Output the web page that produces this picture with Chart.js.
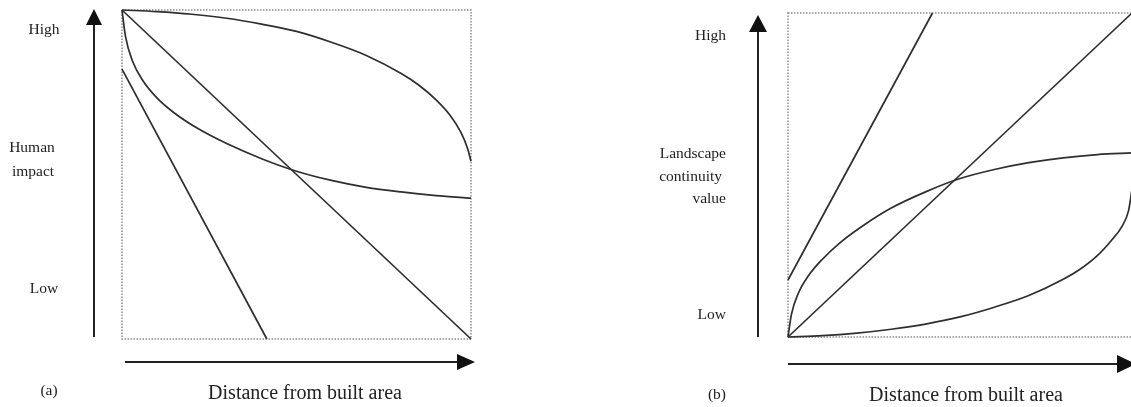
<!DOCTYPE html>
<html>
<head>
<meta charset="utf-8">
<script src="https://cdn.jsdelivr.net/npm/chart.js@4.4.0/dist/chart.umd.min.js"></script>
<style>
  body { margin: 0; width: 1131px; height: 407px; overflow: hidden; background: #fff; position: relative;
         font-family: "Liberation Serif", "Times New Roman", serif; color: #222; }
  canvas { position: absolute; top: 0; }
  .lbl { position: absolute; font-size: 15.5px; line-height: 1; white-space: nowrap; }
  .c { transform: translate(-50%, -50%); }
  .r { transform: translate(-100%, -50%); }
  .big { font-size: 20px; }
</style>
</head>
<body>
<canvas id="chartA" width="565" height="407" style="left:0"></canvas>
<canvas id="chartB" width="580" height="407" style="left:565px"></canvas>

<div class="lbl c" style="left:44px;top:29px">High</div>
<div class="lbl c" style="left:32px;top:147px">Human</div>
<div class="lbl c" style="left:33px;top:171px">impact</div>
<div class="lbl c" style="left:44px;top:288px">Low</div>
<div class="lbl c" style="left:49px;top:390px">(a)</div>
<div class="lbl c big" style="left:305px;top:392px">Distance from built area</div>

<div class="lbl r" style="left:726px;top:35px">High</div>
<div class="lbl r" style="left:726px;top:153px">Landscape</div>
<div class="lbl r" style="left:722px;top:176px">continuity</div>
<div class="lbl r" style="left:726px;top:198px">value</div>
<div class="lbl r" style="left:726px;top:314px">Low</div>
<div class="lbl c" style="left:717px;top:394px">(b)</div>
<div class="lbl c big" style="left:966px;top:394px">Distance from built area</div>

<script>
// (a) human impact vs distance
const aSlowX = [0, 0.1, 0.2, 0.3, 0.4, 0.5, 0.6, 0.7, 0.8, 0.85, 0.9, 0.94, 0.97, 0.99, 1];
const aSlowY = [1, 0.995, 0.987, 0.975, 0.957, 0.935, 0.902, 0.862, 0.807, 0.772, 0.727, 0.68, 0.63, 0.58, 0.54];
const aLinearX = [0, 1];
const aLinearY = [1, 0];
const aFastX = [0, 0.01, 0.03, 0.06, 0.1, 0.15, 0.22, 0.3, 0.4, 0.5, 0.6, 0.7, 0.8, 0.9, 1];
const aFastY = [1, 0.92, 0.845, 0.785, 0.733, 0.687, 0.638, 0.594, 0.548, 0.51, 0.482, 0.461, 0.447, 0.436, 0.428];
const aSteepX = [0, 0.415];
const aSteepY = [0.82, 0];

// (b) landscape continuity value vs distance
const bSteepX = [0, 0.42];
const bSteepY = [0.176, 1];
const bLinearX = [0, 1];
const bLinearY = [0, 1];
const bFastX = [0, 0.01, 0.03, 0.06, 0.1, 0.15, 0.22, 0.3, 0.4, 0.5, 0.6, 0.7, 0.8, 0.9, 1];
const bFastY = [0, 0.07, 0.135, 0.19, 0.24, 0.29, 0.345, 0.398, 0.448, 0.489, 0.517, 0.538, 0.553, 0.563, 0.568];
const bSlowX = [0, 0.1, 0.2, 0.3, 0.4, 0.5, 0.6, 0.7, 0.8, 0.85, 0.9, 0.94, 0.97, 0.99, 1];
const bSlowY = [0, 0.004, 0.012, 0.024, 0.04, 0.062, 0.092, 0.128, 0.178, 0.21, 0.252, 0.298, 0.34, 0.39, 0.456];

const toPoints = (xs, ys) => xs.map((x, i) => ({ x, y: ys[i] }));

// dotted frame round the plot area + the two axis arrows
const framePlugin = {
  id: "frame",
  beforeDatasetsDraw(chart, args, opts) {
    const { ctx, chartArea: { left, top, right, bottom } } = chart;
    ctx.save();
    ctx.strokeStyle = "#8c8c8c";
    ctx.lineWidth = 1.5;
    ctx.setLineDash([1.5, 1.5]);
    ctx.strokeRect(left, top, right - left, bottom - top);
    ctx.setLineDash([]);

    const v = opts.v, h = opts.h;
    ctx.strokeStyle = "#222";
    ctx.fillStyle = "#111";
    ctx.lineWidth = 2;
    ctx.beginPath();
    ctx.moveTo(v.x, v.from); ctx.lineTo(v.x, v.base);
    ctx.moveTo(h.from, h.y); ctx.lineTo(h.base, h.y);
    ctx.stroke();
    ctx.beginPath();
    ctx.moveTo(v.x, v.tip); ctx.lineTo(v.x - v.half, v.base); ctx.lineTo(v.x + v.half, v.base); ctx.closePath();
    ctx.moveTo(h.tip, h.y); ctx.lineTo(h.base, h.y - h.half); ctx.lineTo(h.base, h.y + h.half); ctx.closePath();
    ctx.fill();
    ctx.restore();
  }
};

function makeChart(id, series, padding, arrows) {
  return new Chart(document.getElementById(id), {
    type: "scatter",
    data: {
      datasets: series.map(s => ({
        data: toPoints(s[0], s[1]),
        showLine: true,
        borderColor: "#2e2e2e",
        borderWidth: 1.7,
        pointRadius: 0,
        cubicInterpolationMode: "monotone",
        fill: false,
        clip: false
      }))
    },
    options: {
      responsive: false,
      devicePixelRatio: 1,
      animation: false,
      events: [],
      layout: { padding },
      plugins: {
        legend: { display: false },
        tooltip: { enabled: false },
        frame: arrows
      },
      scales: {
        x: { type: "linear", min: 0, max: 1, display: false },
        y: { type: "linear", min: 0, max: 1, display: false }
      }
    },
    plugins: [framePlugin]
  });
}

makeChart("chartA",
  [[aSlowX, aSlowY], [aLinearX, aLinearY], [aFastX, aFastY], [aSteepX, aSteepY]],
  { left: 122, top: 10, right: 94, bottom: 68 },
  { v: { x: 94, from: 337, base: 25, tip: 9, half: 8 },
    h: { y: 362, from: 125, base: 457, tip: 475, half: 8 } });

makeChart("chartB",
  [[bSteepX, bSteepY], [bLinearX, bLinearY], [bFastX, bFastY], [bSlowX, bSlowY]],
  { left: 223, top: 13, right: 13, bottom: 70 },
  { v: { x: 193, from: 337, base: 32, tip: 15, half: 9 },
    h: { y: 364, from: 223, base: 552, tip: 571, half: 9 } });
</script>
</body>
</html>
